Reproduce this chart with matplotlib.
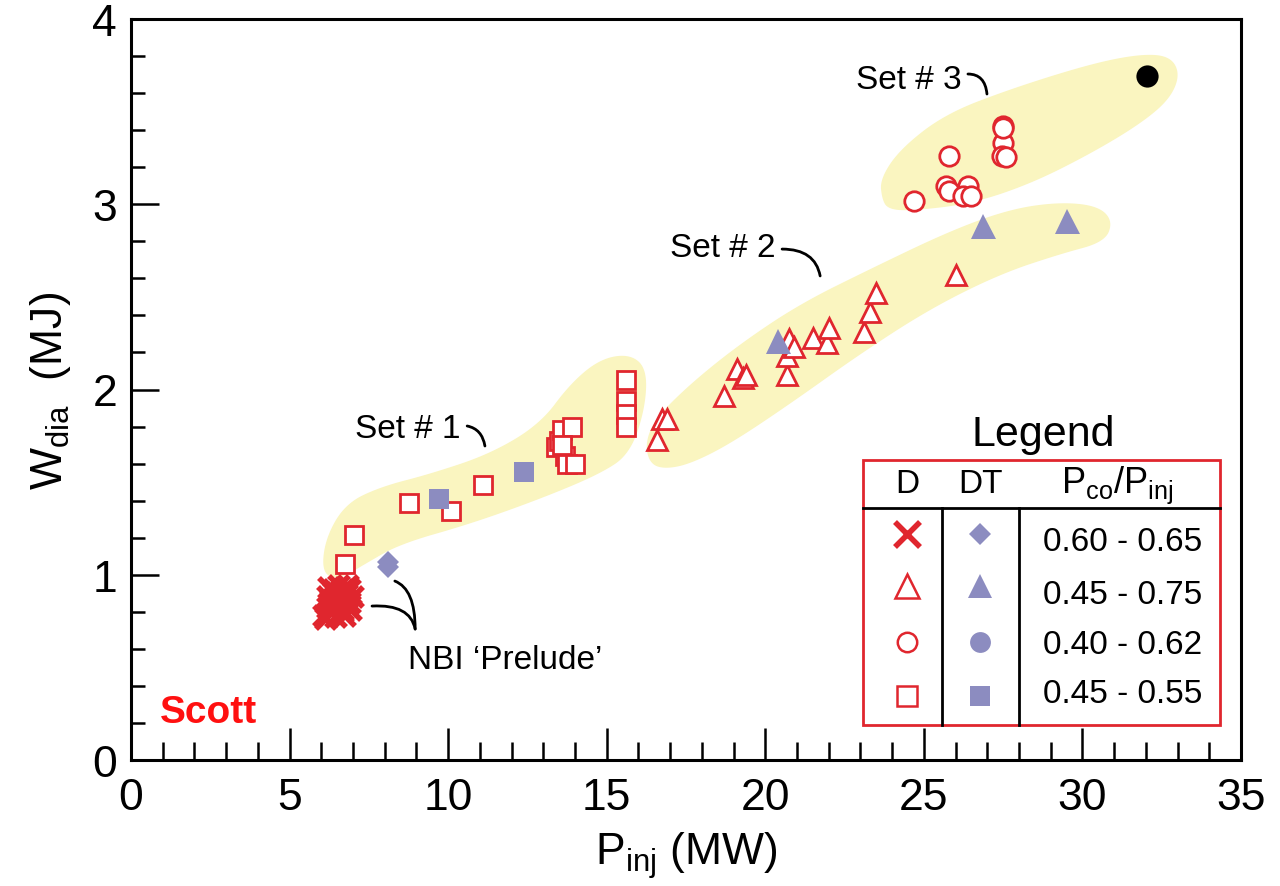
import numpy as np
import matplotlib
matplotlib.use("Agg")
import matplotlib.pyplot as plt
from matplotlib.path import Path
from matplotlib.patches import PathPatch, Polygon, Rectangle
from matplotlib.lines import Line2D

plt.rcParams['font.family'] = ['Liberation Sans', 'DejaVu Sans']
plt.rcParams['mathtext.fontset'] = 'custom'
plt.rcParams['mathtext.rm'] = 'Liberation Sans'
plt.rcParams['mathtext.it'] = 'Liberation Sans:italic'

# ---------------- data ----------------
# D, P_co/P_inj 0.60-0.65 (x markers, NBI prelude)
d_x_x = [6.1, 6.2, 6.3, 6.4, 6.5, 6.6, 6.7, 6.8, 6.3, 6.5, 6.7, 6.9, 6.2, 6.4, 6.6, 6.8,
         6.5, 6.7, 6.9, 6.3, 6.15, 6.45, 6.75, 7.0, 6.95, 6.55, 6.25, 6.85]
d_x_y = [0.78, 0.82, 0.86, 0.90, 0.84, 0.88, 0.92, 0.86, 0.80, 0.83, 0.81, 0.85, 0.88, 0.92,
         0.85, 0.89, 0.90, 0.80, 0.92, 0.84, 0.76, 0.77, 0.78, 0.88, 0.81, 0.94, 0.93, 0.94]
# DT diamonds
dt_d_x = [8.1, 8.1]
dt_d_y = [1.04, 1.07]
# D squares (Set #1)
d_sq_x = [6.75, 7.03, 8.77, 10.1, 11.1, 13.4, 13.5, 13.6, 13.7, 13.9, 13.75, 14.0, 13.6,
          15.6, 15.6, 15.6, 15.6]
d_sq_y = [1.06, 1.215, 1.39, 1.345, 1.485, 1.69, 1.72, 1.78, 1.64, 1.80, 1.60, 1.60, 1.70,
          2.05, 1.94, 1.87, 1.80]
# DT squares
dt_sq_x = [9.7, 12.4]
dt_sq_y = [1.41, 1.555]
# D triangles (Set #2)
d_tri_x = [16.6, 16.75, 16.9, 18.7, 19.1, 19.3, 19.4, 20.7, 20.7, 20.75, 20.9, 21.5, 21.95,
           22.0, 23.1, 23.3, 23.5, 26.0]
d_tri_y = [1.73, 1.84, 1.84, 1.965, 2.11, 2.06, 2.08, 2.08, 2.18, 2.27, 2.23, 2.28, 2.25,
           2.33, 2.31, 2.42, 2.52, 2.62]
# DT triangles
dt_tri_x = [20.4, 26.85, 29.5]
dt_tri_y = [2.26, 2.88, 2.91]
# D circles (Set #3)
d_ci_x = [24.7, 25.7, 25.8, 25.8, 26.4, 26.25, 26.5, 27.5, 27.5, 27.45, 27.6, 27.5]
d_ci_y = [3.02, 3.10, 3.07, 3.26, 3.10, 3.045, 3.045, 3.42, 3.33, 3.26, 3.255, 3.41]
# DT circle
dt_ci_x = [32.05]
dt_ci_y = [3.69]

legend_ranges = ['0.60 - 0.65', '0.45 - 0.75', '0.40 - 0.62', '0.45 - 0.55']

RED = '#E0262E'
PURPLE = '#8C8CC0'
YELLOW = '#FAF5C0'

# ---------------- figure ----------------
fig = plt.figure(figsize=(12.8, 8.87), dpi=100)
ax = fig.add_axes([131/1280, 1-761/887, 1110/1280, 741/887])
ax.set_xlim(0, 35)
ax.set_ylim(0, 4)


def chaikin(pts, n=4):
    p = np.asarray(pts, float)
    for _ in range(n):
        q = 0.75 * p + 0.25 * np.roll(p, -1, axis=0)
        r = 0.25 * p + 0.75 * np.roll(p, -1, axis=0)
        p = np.empty((2 * len(q), 2))
        p[0::2] = q
        p[1::2] = r
    return p


blob1 = [(6.02, 1.004), (6.12, 1.193), (6.75, 1.382), (7.85, 1.474), (9.43, 1.544),
         (11.32, 1.652), (12.90, 1.814), (13.84, 2.030), (14.79, 2.165), (15.73, 2.192),
         (16.27, 2.111), (16.21, 1.895), (15.73, 1.652), (14.79, 1.544), (12.90, 1.409),
         (10.69, 1.274), (8.48, 1.166), (7.38, 1.058), (6.59, 0.977)]
blob2 = [(16.37, 1.598), (16.21, 1.706), (16.52, 1.841), (17.63, 2.030), (19.20, 2.246),
         (21.09, 2.462), (23.30, 2.650), (25.82, 2.856), (27.72, 2.974), (29.29, 3.012),
         (30.49, 2.991), (30.96, 2.910), (30.71, 2.796), (29.29, 2.731), (27.40, 2.623),
         (25.19, 2.435), (22.99, 2.192), (20.78, 1.922), (18.89, 1.706), (17.63, 1.598),
         (16.84, 1.571)]
blob3 = [(23.68, 3.028), (23.62, 3.136), (24.25, 3.298), (25.67, 3.487), (27.72, 3.622),
         (30.24, 3.757), (31.82, 3.811), (32.76, 3.800), (33.08, 3.703), (32.76, 3.568),
         (31.82, 3.433), (30.24, 3.271), (28.35, 3.109), (26.46, 3.001), (24.56, 2.964),
         (23.87, 2.974)]
for b in (blob1, blob2, blob3):
    ax.add_patch(Polygon(chaikin(b), closed=True, facecolor=YELLOW, edgecolor='none', zorder=0))

# ---------------- markers ----------------
ax.plot(d_x_x, d_x_y, ls='none', marker='x', ms=15, mew=4, color=RED, zorder=3)
ax.plot(dt_d_x, dt_d_y, ls='none', marker='D', ms=11, mew=0, color=PURPLE, zorder=3)
ax.plot(d_sq_x, d_sq_y, ls='none', marker='s', ms=13, mew=2, mec=RED, mfc='white', zorder=3)
ax.plot(dt_sq_x, dt_sq_y, ls='none', marker='s', ms=15, mew=0, color=PURPLE, zorder=4)
ax.plot(d_tri_x, d_tri_y, ls='none', marker='^', ms=15, mew=2, mec=RED, mfc='white', zorder=3)
ax.plot(dt_tri_x, dt_tri_y, ls='none', marker='^', ms=18, mew=0, color=PURPLE, zorder=4)
ax.plot(d_ci_x, d_ci_y, ls='none', marker='o', ms=14, mew=2, mec=RED, mfc='white', zorder=3)
ax.plot(dt_ci_x, dt_ci_y, ls='none', marker='o', ms=16, mew=0, color='black', zorder=4)

# ---------------- annotations ----------------
def curve(p0, c, p1):
    path = Path([p0, c, p1], [Path.MOVETO, Path.CURVE3, Path.CURVE3])
    ax.add_patch(PathPatch(path, fill=False, lw=2, color='black', zorder=5, capstyle='round'))

curve((10.60, 1.803), (11.07, 1.787), (11.16, 1.695))
curve((20.53, 2.758), (21.57, 2.758), (21.73, 2.613))
curve((26.39, 3.703), (26.93, 3.703), (26.99, 3.595))
curve((8.32, 0.966), (8.96, 0.923), (8.96, 0.707))
curve((7.60, 0.831), (8.80, 0.842), (8.96, 0.707))

ax.text(8.73, 1.787, 'Set # 1', fontsize=24, ha='center', va='center')
ax.text(18.67, 2.764, 'Set # 2', fontsize=24, ha='center', va='center')
ax.text(24.53, 3.676, 'Set # 3', fontsize=24, ha='center', va='center')
ax.text(11.79, 0.545, 'NBI \u2018Prelude\u2019', fontsize=24, ha='center', va='center')
ax.text(0.91, 0.26, 'Scott', fontsize=28, fontweight='bold', color='#FF1010',
        ha='left', va='center')

# ---------------- legend (table) ----------------
T = ax.transAxes
ax.add_patch(Rectangle((0.6595, 0.0472), 0.9811 - 0.6595, 0.4049 - 0.0472, transform=T,
                       fill=False, edgecolor=RED, lw=2, zorder=6))
ax.add_line(Line2D([0.6595, 0.9811], [0.3401, 0.3401], transform=T, color='black', lw=2, zorder=6))
ax.add_line(Line2D([0.7306, 0.7306], [0.0472, 0.3401], transform=T, color='black', lw=2, zorder=6))
ax.add_line(Line2D([0.8, 0.8], [0.0472, 0.3401], transform=T, color='black', lw=2, zorder=6))
ax.text(0.8216, 0.4399, 'Legend', transform=T, fontsize=31, ha='center', va='center')
ax.text(0.6991, 0.3725, 'D', transform=T, fontsize=24, ha='center', va='center')
ax.text(0.7649, 0.3725, 'DT', transform=T, fontsize=24, ha='center', va='center')
ax.text(0.8883, 0.3725, r'P$_{\mathrm{co}}$/P$_{\mathrm{inj}}$', transform=T, fontsize=26,
        ha='center', va='center')

row_m = [0.305, 0.2348, 0.1592, 0.0864]
row_t = [0.2942, 0.2240, 0.1565, 0.0891]
d_styles = [dict(marker='x', ms=18, mew=4, color=RED),
            dict(marker='^', ms=17, mew=1.8, mec=RED, mfc='white'),
            dict(marker='o', ms=14, mew=1.8, mec=RED, mfc='white'),
            dict(marker='s', ms=14, mew=1.8, mec=RED, mfc='white')]
dt_styles = [dict(marker='D', ms=11, mew=0, color=PURPLE),
             dict(marker='^', ms=17, mew=0, color=PURPLE),
             dict(marker='o', ms=15, mew=0, color=PURPLE),
             dict(marker='s', ms=14, mew=0, color=PURPLE)]
for ym, yt, ds, dts, lab in zip(row_m, row_t, d_styles, dt_styles, legend_ranges):
    ax.plot([0.6991], [ym], ls='none', transform=T, zorder=7, clip_on=False, **ds)
    ax.plot([0.7649], [ym], ls='none', transform=T, zorder=7, clip_on=False, **dts)
    ax.text(0.8937, yt, lab, transform=T, fontsize=24, ha='center', va='center')

# ---------------- axes styling ----------------
ax.set_xticks(np.arange(0, 36, 5))
ax.set_xticks(np.arange(0, 36, 1), minor=True)
ax.set_yticks(np.arange(0, 5, 1))
ax.set_yticks(np.arange(0, 4.01, 0.2), minor=True)
ax.tick_params(which='both', direction='in', top=False, right=False, labelsize=32, width=1.8)
ax.tick_params(axis='x', which='major', length=23, pad=12)
ax.tick_params(axis='x', which='minor', length=13)
ax.tick_params(axis='y', which='major', length=20, pad=10)
ax.tick_params(axis='y', which='minor', length=10)
for s in ax.spines.values():
    s.set_linewidth(2.2)

ax.set_xlabel(r'P$_{\mathrm{inj}}$ (MW)', fontsize=32, labelpad=8)
ax.set_ylabel(r'W$_{\mathrm{dia}}$  (MJ)', fontsize=32, labelpad=14)

fig.savefig('out.png', dpi=100)
